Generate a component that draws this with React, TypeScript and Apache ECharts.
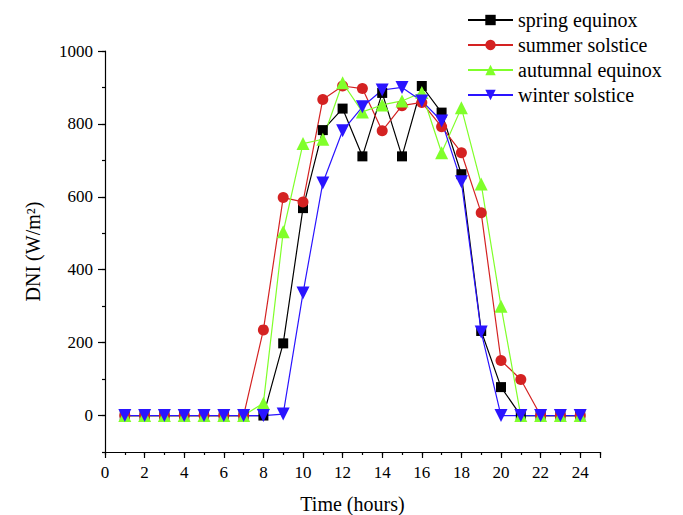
import React, { useEffect, useRef } from "react";
import * as echarts from "echarts";

const hours = [1, 2, 3, 4, 5, 6, 7, 8, 9, 10, 11, 12, 13, 14, 15, 16, 17, 18, 19, 20, 21, 22, 23, 24];
const springEquinox = [0, 0, 0, 0, 0, 0, 0, 0, 198, 569, 783, 842, 711, 885, 711, 904, 831, 662, 232, 78, 0, 0, 0, 0];
const summerSolstice = [0, 0, 0, 0, 0, 0, 0, 235, 598, 586, 867, 904, 897, 781, 850, 859, 792, 721, 556, 151, 99, 0, 0, 0];
const autumnalEquinox = [0, 0, 0, 0, 0, 0, 0, 34, 504, 746, 758, 913, 833, 852, 863, 886, 721, 844, 635, 300, 0, 0, 0, 0];
const winterSolstice = [0, 0, 0, 0, 0, 0, 0, 0, 4, 336, 638, 781, 847, 893, 900, 863, 808, 641, 229, 0, 0, 0, 0, 0];
const seriesNames = ["spring equinox", "summer solstice", "autumnal equinox", "winter solstice"];

const FONT = "'Liberation Serif', 'Times New Roman', serif";

export default function App() {
  const ref = useRef<HTMLDivElement>(null);
  useEffect(() => {
    if (!ref.current) return;
    const chart = echarts.init(ref.current, undefined, { renderer: "svg" });
    const pair = (arr: number[]) => hours.map((h, i) => [h, arr[i]]);
    const axisLineStyle = { color: "#000", width: 1.2 };
    const gTop = 51;
    const gBottom = 63;
    const yMin = -100;
    const yMax = 1000;
    const plotH = 515 - gTop - gBottom;
    const zeroBottom = gBottom + (plotH * (0 - yMin)) / (yMax - yMin);
    const mk = (name: string, data: number[], color: string, symbol: string, size: number) => ({
      name,
      type: "line",
      xAxisIndex: 0,
      yAxisIndex: 0,
      data: pair(data),
      symbol,
      symbolSize: size,
      showSymbol: true,
      lineStyle: { color, width: 1.2 },
      itemStyle: { color, borderWidth: 0 },
      emphasis: { disabled: true },
    });
    chart.setOption({
      animation: false,
      textStyle: { fontFamily: FONT },
      grid: [
        { left: 105, right: 83, top: gTop, bottom: gBottom, containLabel: false, outerBoundsMode: "none" },
        { left: 105, right: 83, top: gTop, bottom: zeroBottom, containLabel: false, outerBoundsMode: "none" },
      ],
      legend: {
        orient: "vertical",
        left: 462,
        top: 5,
        itemWidth: 45,
        itemHeight: 13,
        itemGap: 5,
        textStyle: { fontFamily: FONT, fontSize: 20, color: "#000", lineHeight: 20 },
        data: seriesNames,
      },
      xAxis: [
        {
          type: "value",
          gridIndex: 0,
          min: 0,
          max: 25,
          interval: 1,
          position: "bottom",
          axisLine: { show: true, onZero: false, lineStyle: axisLineStyle },
          axisTick: { show: true, inside: false, length: 3, lineStyle: axisLineStyle },
          axisLabel: { show: false },
          splitLine: { show: false },
          name: "Time (hours)",
          nameLocation: "middle",
          nameGap: 42,
          nameTextStyle: { fontFamily: FONT, fontSize: 20, color: "#000" },
        },
        {
          type: "value",
          gridIndex: 0,
          min: 0,
          max: 25,
          interval: 2,
          position: "bottom",
          axisLine: { show: false, onZero: false },
          axisTick: { show: true, inside: false, length: 6, lineStyle: axisLineStyle },
          axisLabel: {
            show: true,
            margin: 12,
            fontFamily: FONT,
            fontSize: 17,
            color: "#000",
            formatter: (v: number) => (v % 2 === 0 && v <= 24 ? String(v) : ""),
          },
          splitLine: { show: false },
        },
        {
          type: "value",
          gridIndex: 1,
          min: 0,
          max: 25,
          show: false,
        },
      ],
      yAxis: [
        {
          type: "value",
          gridIndex: 0,
          min: yMin,
          max: yMax,
          interval: 100,
          position: "left",
          axisLine: { show: true, onZero: false, lineStyle: axisLineStyle },
          axisTick: { show: true, inside: false, length: 3, lineStyle: axisLineStyle },
          axisLabel: { show: false },
          splitLine: { show: false },
          name: "DNI (W/m²)",
          nameLocation: "middle",
          nameGap: 62,
          nameRotate: 90,
          nameTextStyle: { fontFamily: FONT, fontSize: 20, color: "#000" },
        },
        {
          type: "value",
          gridIndex: 1,
          min: 0,
          max: yMax,
          interval: 200,
          position: "left",
          axisLine: { show: false, onZero: false },
          axisTick: { show: true, inside: false, length: 7, lineStyle: axisLineStyle },
          axisLabel: {
            show: true,
            margin: 12,
            fontFamily: FONT,
            fontSize: 17,
            color: "#000",
            formatter: (v: number) => String(v),
          },
          splitLine: { show: false },
        },
      ],
      series: [
        mk(seriesNames[0], springEquinox, "#000000", "rect", 10),
        mk(seriesNames[1], summerSolstice, "#d42222", "circle", 11),
        mk(seriesNames[2], autumnalEquinox, "#80ff2a", "triangle", 13),
        mk(seriesNames[3], winterSolstice, "#2a14ff", "path://M0,0L20,0L10,17Z", 13),
      ],
    });
    return () => chart.dispose();
  }, []);
  return <div ref={ref} style={{ width: 683, height: 515, position: "absolute", left: 0, top: 0 }} />;
}
